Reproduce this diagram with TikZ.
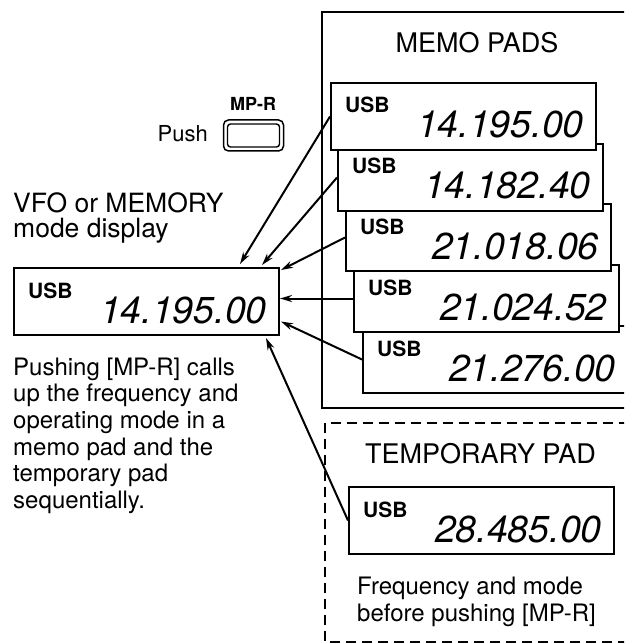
\documentclass[tikz,border=0pt]{standalone}
\usepackage{fontspec}
\setmainfont{TeX Gyre Heros}
\usetikzlibrary{arrows.meta,calc}
\newcommand\dispbox[4]{%
  \node[disp] (#1) at (#2,#3) {};
  \node[modetxt] (#1m) at ($(#1.north west)+(15,31)$) {USB};
  \node[freqtxt] (#1f) at ($(#1.north east)+(-13,56)$) {#4};
}
\begin{document}
\begin{tikzpicture}[x=1pt,y=-1pt,
  disp/.style={draw,line width=2pt,fill=white,minimum width=265pt,minimum height=67pt,inner sep=0pt,anchor=north west},
  modetxt/.style={font=\bfseries\fontsize{21}{21}\selectfont,anchor=base west,inner sep=0pt},
  freqtxt/.style={font=\itshape\fontsize{37.5}{37.5}\selectfont,anchor=base east,inner sep=0pt},
  arr/.style={line width=2pt,-{Stealth[length=12pt,width=7pt]}},
  frame/.style={line width=2pt},
  txt/.style={inner sep=0pt,font=\fontsize{24}{26.7}\selectfont},
  head/.style={inner sep=0pt,font=\fontsize{27}{27}\selectfont}
]
\path[use as bounding box] (0,0) rectangle (624,644);
\clip (0,0) rectangle (624,644);

% frames
\draw[frame] (322,12) rectangle (650,408);
\draw[frame,dash pattern=on 10pt off 6pt] (325,423) rectangle (650,642);

\node[head,anchor=base] (memohead) at (477,53) {MEMO PADS};
\node[head,anchor=base west] (temphead) at (365,463) {TEMPORARY PAD};

% memo pads (back to front)
\dispbox{b5}{362}{325}{21.276.00}
\dispbox{b4}{353}{264}{21.024.52}
\dispbox{b3}{345}{203}{21.018.06}
\dispbox{b2}{337}{143}{14.182.40}
\dispbox{b1}{330}{82}{14.195.00}

% temporary pad
\dispbox{T}{348}{486}{28.485.00}
\node[txt,anchor=base west,align=left] (tempnote) at (357,621) {Frequency and mode\\before pushing [MP-R]};

% VFO display
\node[txt,anchor=base west,align=left,font=\fontsize{26.5}{25}\selectfont] (vfolabel) at (13,237) {VFO or MEMORY\\mode display};
\dispbox{L}{13}{267}{14.195.00}
\node[txt,anchor=base west,align=left] (note) at (13,508.5) {Pushing [MP-R] calls\\up the frequency and\\operating mode in a\\memo pad and the\\temporary pad\\sequentially.};

% push button
\node[inner sep=0pt,font=\bfseries\fontsize{18}{18}\selectfont,anchor=base] (mpr) at (253,111) {MP-R};
\node[draw,line width=1.5pt,rounded corners=5pt,minimum width=60pt,minimum height=31pt,inner sep=0pt] (btn) at (253.5,135.5) {};
\node[draw,line width=1.4pt,rounded corners=3pt,minimum width=52pt,minimum height=23pt,inner sep=0pt] (btnin) at (btn.center) {};
\node[inner sep=0pt,font=\fontsize{22}{22}\selectfont,anchor=base east] (push) at (208,142) {Push};

% arrows
\coordinate (e1) at ($(L.north west)+(227,-3)$);
\coordinate (e2) at ($(L.north west)+(249,-2)$);
\coordinate (e3) at ($(L.north east)+(1,3)$);
\coordinate (e5) at ($(L.east)+(1,20)$);
\coordinate (e6) at ($(L.south east)+(-14,2)$);
\draw[arr] (b1.west) -- (e1);
\draw[arr] (b2.west) -- (e2);
\draw[arr] (b3.west) -- (e3);
\draw[arr] (b4.west) -- (b4.west -| L.east);
\draw[arr] (b5.west) -- (e5);
\draw[arr] (T.west) -- (e6);
\end{tikzpicture}
\end{document}
